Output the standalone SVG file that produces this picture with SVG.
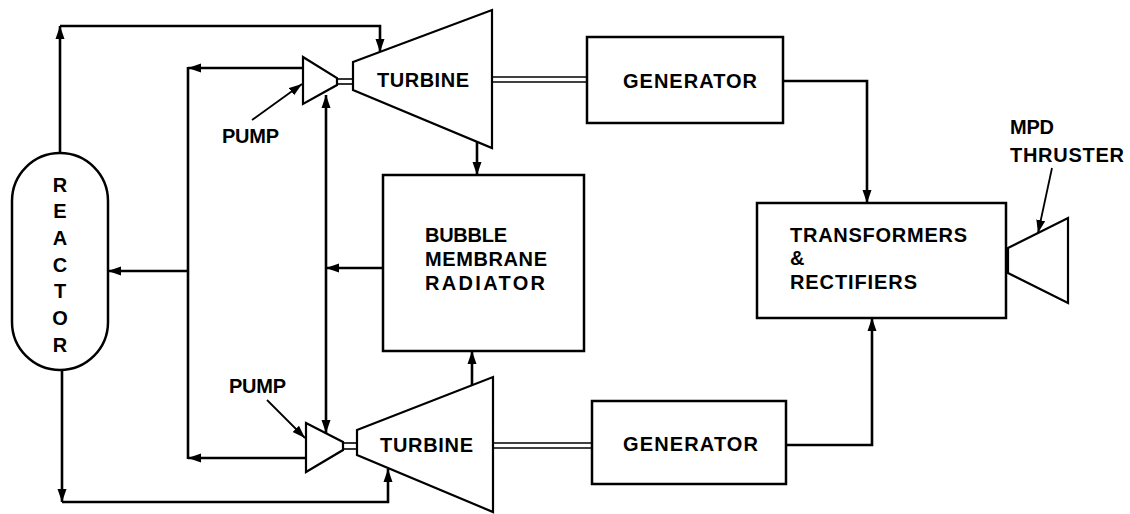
<svg xmlns="http://www.w3.org/2000/svg" width="1130" height="514" viewBox="0 0 1130 514">
<defs>
<marker id="ah" markerUnits="userSpaceOnUse" markerWidth="14" markerHeight="10" refX="13" refY="5" orient="auto">
<path d="M0,0.5 L13,5 L0,9.5 z" fill="#000"/>
</marker>
<style>
.box{fill:#fff;stroke:#000;stroke-width:2.5}
.shape{fill:#fff;stroke:#000;stroke-width:2.2;stroke-linejoin:miter}
.ln{fill:none;stroke:#000;stroke-width:2.6}
.thin{fill:none;stroke:#000;stroke-width:1.8}
.shaft{fill:none;stroke:#000;stroke-width:1.6}
.arr{marker-end:url(#ah)}
text{font-family:"Liberation Sans",Arial,sans-serif;font-weight:bold;font-size:20px;fill:#000}
.mid{text-anchor:middle}
</style>
</defs>
<rect width="1130" height="514" fill="#fff"/>

<g id="connectors">
<line class="ln arr" x1="60" y1="153" x2="60" y2="26"/>
<polyline class="ln arr" points="60,26 380,26 380,52"/>
<line class="ln arr" x1="62" y1="370" x2="62" y2="502"/>
<polyline class="ln arr" points="62,502 388,502 388,469"/>
<line class="ln arr" x1="303" y1="68" x2="188" y2="68"/>
<line class="ln arr" x1="306" y1="458" x2="188" y2="458"/>
<line class="ln" x1="188" y1="67" x2="188" y2="459"/>
<line class="ln arr" x1="188" y1="271" x2="108" y2="271"/>
<line class="ln arr" x1="383" y1="268" x2="326" y2="268"/>
<line class="ln arr" x1="326" y1="268" x2="326" y2="95"/>
<line class="ln arr" x1="326" y1="268" x2="326" y2="433"/>
<line class="ln arr" x1="477" y1="142" x2="477" y2="175"/>
<line class="ln arr" x1="472" y1="385" x2="472" y2="351"/>
<line class="shaft" x1="337" y1="79" x2="353" y2="79"/>
<line class="shaft" x1="337" y1="84" x2="353" y2="84"/>
<line class="shaft" x1="343" y1="443" x2="357" y2="443"/>
<line class="shaft" x1="343" y1="449" x2="357" y2="449"/>
<line class="shaft" x1="492" y1="77" x2="587" y2="77"/>
<line class="shaft" x1="492" y1="82" x2="587" y2="82"/>
<line class="shaft" x1="493" y1="443" x2="592" y2="443"/>
<line class="shaft" x1="493" y1="448" x2="592" y2="448"/>
<polyline class="ln arr" points="783,81 867,81 867,203"/>
<polyline class="ln arr" points="786,445 872,445 872,318"/>
<line class="thin arr" x1="252" y1="120" x2="302" y2="84"/>
<line class="thin arr" x1="267" y1="400" x2="305" y2="438"/>
<line class="thin arr" x1="1052" y1="168" x2="1038" y2="233"/>
</g>

<g id="reactor">
<rect class="box" x="12" y="153" width="96" height="217" rx="48" ry="48"/>
<text class="mid" x="60" y="192">R</text>
<text class="mid" x="60" y="218">E</text>
<text class="mid" x="60" y="245">A</text>
<text class="mid" x="60" y="272">C</text>
<text class="mid" x="60" y="298">T</text>
<text class="mid" x="60" y="325">O</text>
<text class="mid" x="60" y="352">R</text>
</g>

<g id="pump-top">
<polygon class="shape" points="303,57 337,78 337,85 303,104"/>
<text x="222" y="143" textLength="57" lengthAdjust="spacing">PUMP</text>
</g>

<g id="pump-bottom">
<polygon class="shape" points="306,423 343,442 343,450 306,472"/>
<text x="229" y="393" textLength="57" lengthAdjust="spacing">PUMP</text>
</g>

<g id="turbine-top">
<polygon class="shape" points="353,62 492,10 492,148 353,90"/>
<text x="377" y="87" textLength="92" lengthAdjust="spacing">TURBINE</text>
</g>

<g id="turbine-bottom">
<polygon class="shape" points="357,430 493,377 493,512 357,455"/>
<text x="380" y="452" textLength="93" lengthAdjust="spacing">TURBINE</text>
</g>

<g id="radiator">
<rect class="box" x="383" y="175" width="201" height="176"/>
<text x="425" y="242" textLength="82" lengthAdjust="spacing">BUBBLE</text>
<text x="425" y="266" textLength="122" lengthAdjust="spacing">MEMBRANE</text>
<text x="425" y="290" textLength="120" lengthAdjust="spacing">RADIATOR</text>
</g>

<g id="generator-top">
<rect class="box" x="587" y="37" width="196" height="86"/>
<text x="623" y="88" textLength="134" lengthAdjust="spacing">GENERATOR</text>
</g>

<g id="generator-bottom">
<rect class="box" x="592" y="401" width="194" height="83"/>
<text x="623" y="451" textLength="135" lengthAdjust="spacing">GENERATOR</text>
</g>

<g id="transformers">
<rect class="box" x="757" y="203" width="249" height="115"/>
<text x="790" y="242" textLength="177" lengthAdjust="spacing">TRANSFORMERS</text>
<text x="790" y="265">&amp;</text>
<text x="790" y="289" textLength="127" lengthAdjust="spacing">RECTIFIERS</text>
</g>

<g id="thruster">
<polygon class="shape" points="1008,248 1068,218 1068,303 1008,273"/>
<text x="1010" y="134" textLength="44" lengthAdjust="spacing">MPD</text>
<text x="1010" y="162" textLength="114" lengthAdjust="spacing">THRUSTER</text>
</g>
</svg>
